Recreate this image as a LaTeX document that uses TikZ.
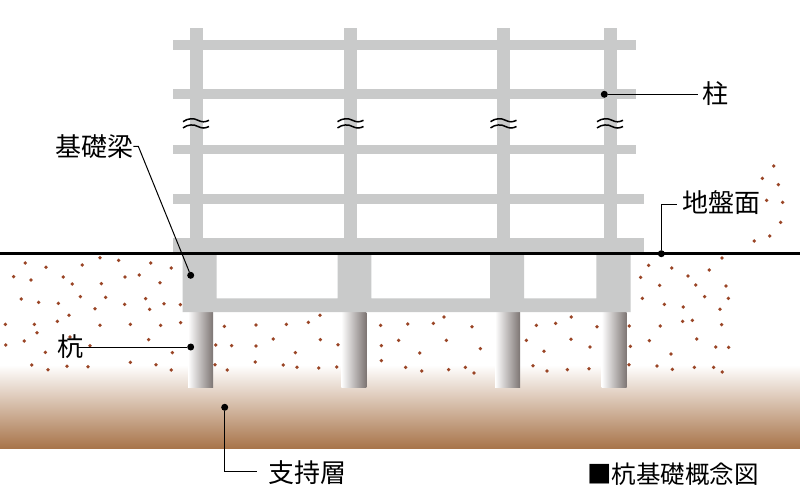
\documentclass[tikz,border=0pt]{standalone}
\usepackage{fontspec}
\setmainfont{Noto Sans CJK JP}
\definecolor{struct}{HTML}{C9CACA}
\definecolor{soil}{HTML}{A8744A}
\definecolor{speck}{HTML}{9A4526}
\definecolor{pilegrey}{HTML}{7D7573}
\tikzset{
 member/.style={fill=struct,draw=none},
 pile/.style={left color=white,right color=pilegrey,draw=none},
 lead/.style={draw=black,line width=1pt},
 pin/.style={circle,fill=black,inner sep=0pt,minimum size=7pt},
 lbl/.style={font=\fontsize{26}{28}\selectfont,inner sep=0pt,anchor=center,text=black},
 ttl/.style={font=\fontsize{24.5}{26}\selectfont,inner sep=0pt,anchor=center,text=black},
 brk/.style={line width=1.5pt,black},
 speckdot/.style={fill=speck}
}
\begin{document}
\begin{tikzpicture}[x=1pt,y=-1pt]
\useasboundingbox (0,0) rectangle (800,500);
\fill[white] (0,0) rectangle (800,500);
% bearing stratum
\shade[top color=white,bottom color=soil] (0,365) rectangle (800,448.3);
% specks
\foreach \x/\y in {76/99,138/112,247/105,300/83,356/91,452/99,514/114,41/140,93/150,190/141,217/162,304/161,375/141,418/135,480/158,64/207,116/217,175/220,241/200,317/202,374/223,285/236,437/206,449/238,492/221,541/224,207/256,16/283,103/283,172/274,300/286,391/283,482/286,542/278,111/308,210/321,17/345,73/333,270/347,446/329,136/367,517/368,95/405,144/419,201/409,264/410,391/397,468/404,514/420,673/289,768/285,859/283,925/277,960/256,647/345,695/347,768/348,820/327,961/329,1014/344,886/368,645/404,682/420,766/396,850/405,891/412,956/414,1010/411,1142/286,1144/347,1196/331,1144/392}
 \fill[speckdot] ({\x/3},{230+\y/3}) circle[radius=1.9pt];
\foreach \x/\y in {23/282,100/280,132/261,216/290,139/331,59/369,241/356,17/412,65/423,146/419,196/412,222/429,409/286,467/280,514/261,591/290,379/331,513/328,432/364,570/351,399/407,441/423,502/419,567/416,688/288,691/349,687/404,781/288,748/332,813/372,771/408,817/418,883/412,941/412,967/426,848/274,877/271,890/327,965/284,947/351,986/352,746/106,815/114,864/138,928/120,966/84,722/142,779/166,887/165,978/168,727/205,793/223,850/231,914/200,985/205,960/238,1063/33,1109/18}
 \fill[speckdot] ({400+\x/3},{230+\y/3}) circle[radius=1.9pt];
\foreach \x/\y in {1001/438,967/475,1015/494,980/541,1028/547,1022/607}
 \fill[speckdot] ({440+\x/3},{20+\y/3}) circle[radius=1.9pt];
% columns
\foreach \x in {190,344,497,604}
 \fill[member] (\x,27.7) rectangle ++(12.6,212);
% beams
\fill[member] (172.7,40) rectangle (635.7,50);
\fill[member] (172.7,89.3) rectangle (635.7,99);
\fill[member] (172.7,144.7) rectangle (635.7,154.3);
\fill[member] (172.7,193.7) rectangle (644,203.7);
\fill[member] (172.7,237.5) rectangle (644,254);
% piles
\foreach \x in {188,341.3,495,601.7}
 \shade[pile] (\x,312) rectangle ++(25,75.7);
% footing
\fill[member,even odd rule] (182.7,253) rectangle (630.7,312)
 (216.7,254) rectangle (337.7,298.3)
 (371.3,254) rectangle (490,298.3)
 (524,254) rectangle (596.3,298.3);
% ground line
\draw[line width=3pt] (0,253.7) -- (800,253.7);
% break marks
\foreach \x in {196,350.5,503.5,610}{
 \foreach \d in {0,6.2}{
 \draw[brk] (\x-13,121.7+\d) .. controls (\x-8,118+\d) and (\x-2,118+\d) .. (\x+2,120.3+\d) .. controls (\x+6,122.3+\d) and (\x+9,122.3+\d) .. (\x+13,120.3+\d);
 }
}
% labels
\node[lbl] (lhashira) at (715,94) {柱};
\node[lbl] (lkiso) at (94,147) {基礎梁};
\node[lbl] (lkui) at (70,347) {杭};
\node[lbl] (lchiban) at (721.5,203) {地盤面};
\node[lbl] (lshiji) at (307,473) {支持層};
\node[ttl] (ltitle) at (673,474.5) {■杭基礎概念図};
% pins
\node[pin] (phashira) at (604.3,94.3) {};
\node[pin] (pkiso) at (190.7,275.3) {};
\node[pin] (pkui) at (190.7,347) {};
\node[pin] (pchiban) at (661.3,253.7) {};
\node[pin] (pshiji) at (224.7,407.3) {};
% leader ends
\coordinate (ehashira) at (698,94.3);
\coordinate (ekiso) at (133.3,146.3);
\coordinate (bkiso) at (138.3,146.3);
\coordinate (ekui) at (78,347);
\coordinate (bchiban) at (661.3,204.3);
\coordinate (echiban) at (676.7,204.3);
\coordinate (bshiji) at (224.7,471.7);
\coordinate (eshiji) at (257.3,471.7);
\draw[lead] (phashira) -- (ehashira);
\draw[lead] (pkiso) -- (bkiso) -- (ekiso);
\draw[lead] (pkui) -- (ekui);
\draw[lead] (pchiban) -- (bchiban) -- (echiban);
\draw[lead] (pshiji) -- (bshiji) -- (eshiji);
\end{tikzpicture}
\end{document}
